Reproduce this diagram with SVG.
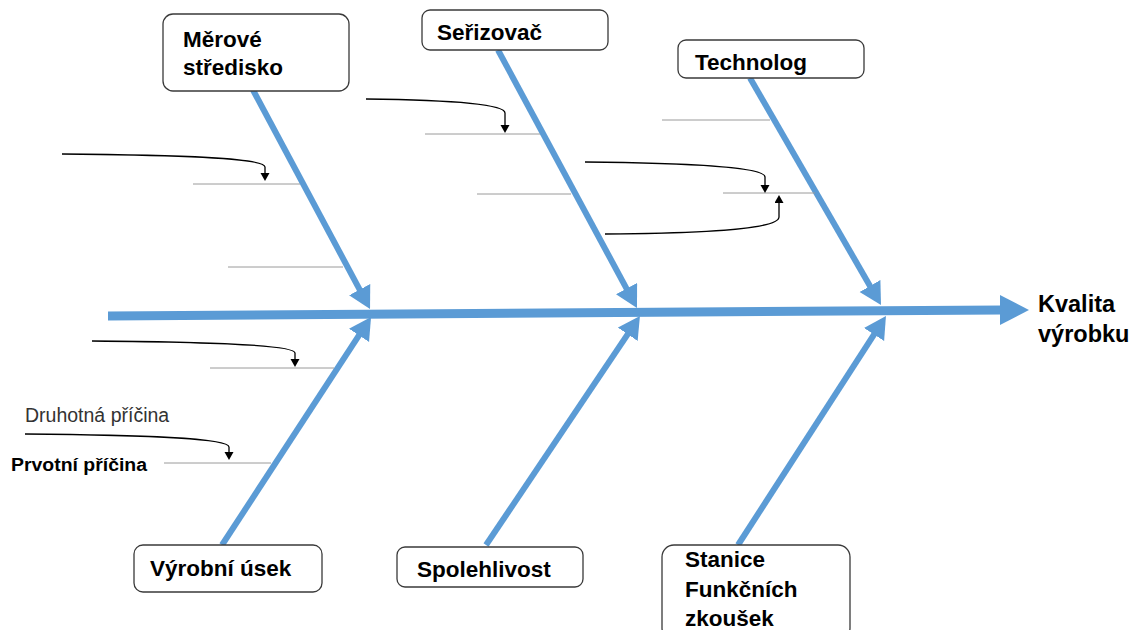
<svg xmlns="http://www.w3.org/2000/svg" width="1146" height="630" viewBox="0 0 1146 630">
<style>
.box{fill:#fff;stroke:#3a3a3a;stroke-width:1.3}
.lbl{font-family:"Liberation Sans",Arial,sans-serif;font-weight:bold;font-size:22.5px;fill:#000}
.big{font-size:23.5px}
.bone{stroke:#5B9BD5;stroke-width:6;fill:none}
.sub{stroke:#9a9a9a;stroke-width:1;fill:none}
.cur{stroke:#000;stroke-width:1.3;fill:none;marker-end:url(#sm)}
</style>
<defs>
<marker id="big" markerUnits="userSpaceOnUse" markerWidth="24" markerHeight="26" refX="2" refY="12" orient="auto">
<path d="M0,0 L22,12 L0,24 z" fill="#5B9BD5"/>
</marker>
<marker id="sm" markerUnits="userSpaceOnUse" markerWidth="10" markerHeight="10" refX="0" refY="4.5" orient="auto">
<path d="M0,0 L8,4.5 L0,9 z" fill="#000"/>
</marker>
</defs>
<rect width="1146" height="630" fill="#fff"/>
<g id="connectors">
<line x1="108" y1="316" x2="1002" y2="310" stroke="#5B9BD5" stroke-width="9"/>
<polygon points="1000,295 1029,310 1000,325" fill="#5B9BD5"/>
<line class="bone" x1="253" y1="90" x2="360.6" y2="291.4" marker-end="url(#big)"/>
<line class="bone" x1="498" y1="50" x2="627.5" y2="290.4" marker-end="url(#big)"/>
<line class="bone" x1="750" y1="78" x2="871" y2="287.7" marker-end="url(#big)"/>
<line class="bone" x1="222" y1="545" x2="360.1" y2="333.7" marker-end="url(#big)"/>
<line class="bone" x1="486" y1="545" x2="628.8" y2="332.6" marker-end="url(#big)"/>
<line class="bone" x1="738" y1="545" x2="875.1" y2="332.8" marker-end="url(#big)"/>
<line class="sub" x1="193" y1="184" x2="300" y2="184"/>
<line class="sub" x1="228" y1="267" x2="343" y2="267"/>
<line class="sub" x1="425" y1="134" x2="540" y2="134"/>
<line class="sub" x1="477" y1="194" x2="571" y2="194"/>
<line class="sub" x1="662" y1="120" x2="770" y2="120"/>
<line class="sub" x1="723" y1="193" x2="815" y2="193"/>
<line class="sub" x1="210" y1="368" x2="334" y2="368"/>
<line class="sub" x1="164" y1="463" x2="271" y2="463"/>
<path class="cur" d="M62,154 C180,155 265,158 265,167 L265,173"/>
<path class="cur" d="M366,99 C450,100 505,104 505,113 L505,125"/>
<path class="cur" d="M585,162 C690,163 765,167 765,177 L765,185"/>
<path class="cur" d="M605,234 C720,233 779,228 779,217 L779,203"/>
<path class="cur" d="M92,341 C210,342 295,345 295,353 L295,359"/>
<path class="cur" d="M25,434 C140,435 229,438 229,447 L229,452"/>
</g>
<g id="n-merove">
<rect class="box" x="163" y="14" width="186" height="77" rx="10"/>
<text class="lbl" x="183" y="47">Měrové</text>
<text class="lbl" x="183" y="75">středisko</text>
</g>
<g id="n-serizovac">
<rect class="box" x="422" y="10" width="186" height="40" rx="8"/>
<text class="lbl" x="437" y="40">Seřizovač</text>
</g>
<g id="n-technolog">
<rect class="box" x="678" y="40" width="186" height="38" rx="8"/>
<text class="lbl" x="695" y="70">Technolog</text>
</g>
<g id="n-vyrobni">
<rect class="box" x="134" y="545" width="188" height="47" rx="9"/>
<text class="lbl" x="150" y="576">Výrobní úsek</text>
</g>
<g id="n-spolehlivost">
<rect class="box" x="397" y="547" width="186" height="40" rx="8"/>
<text class="lbl" x="417" y="577">Spolehlivost</text>
</g>
<g id="n-stanice">
<rect class="box" x="662" y="545" width="188" height="95" rx="12"/>
<text class="lbl" x="685" y="567">Stanice</text>
<text class="lbl" x="685" y="597">Funkčních</text>
<text class="lbl" x="685" y="626">zkoušek</text>
</g>
<g id="n-kvalita">
<text class="lbl big" x="1038" y="312">Kvalita</text>
<text class="lbl big" x="1038" y="342">výrobku</text>
</g>
<g id="legend">
<text x="25" y="422" font-family="Liberation Sans, Arial, sans-serif" font-size="19.5" fill="#333">Druhotná příčina</text>
<text x="11" y="471" font-family="Liberation Sans, Arial, sans-serif" font-size="18" font-weight="bold" fill="#000" textLength="136" lengthAdjust="spacingAndGlyphs">Prvotní příčina</text>
</g>
</svg>
